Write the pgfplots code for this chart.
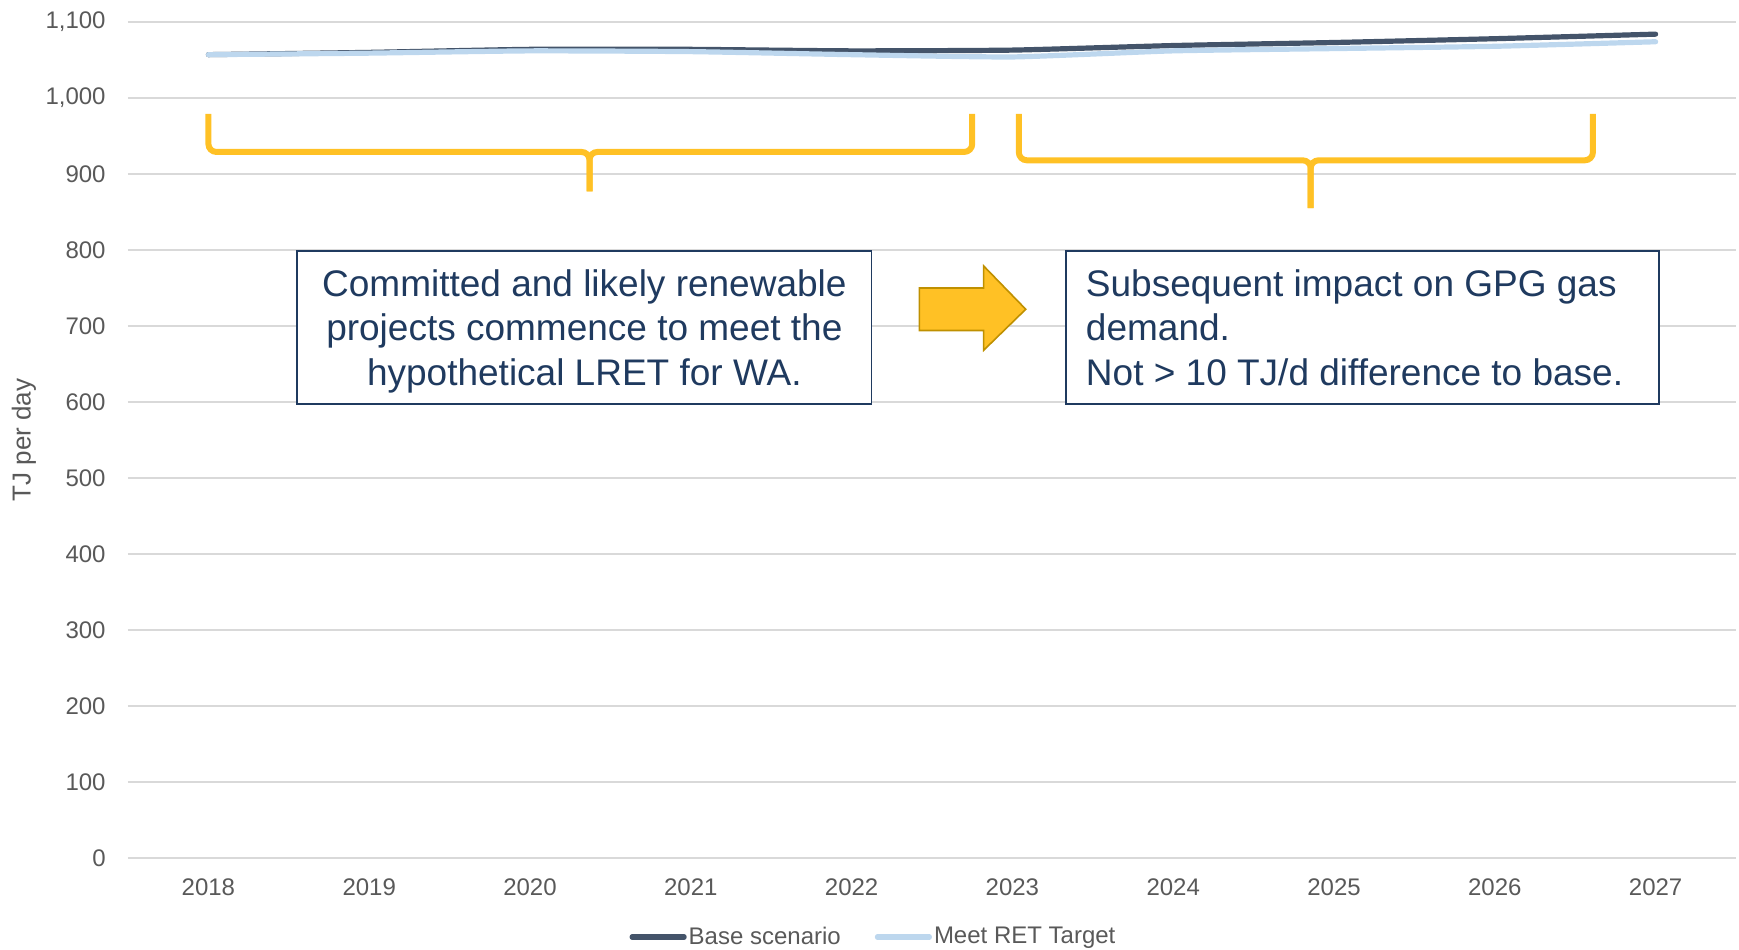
\documentclass[border=0pt]{standalone}
\usepackage{pgfplots}
\pgfplotsset{compat=1.18}
\usepackage{fontspec}
\setmainfont{Liberation Sans}
\definecolor{basec}{HTML}{44546A}
\definecolor{meetc}{HTML}{BDD7EE}
\definecolor{gridc}{HTML}{D9D9D9}
\definecolor{tickc}{HTML}{595959}
\definecolor{boxc}{HTML}{1F3A5F}
\definecolor{gold}{HTML}{FFC125}
\definecolor{golddark}{HTML}{BF9000}
\begin{document}
\begin{tikzpicture}
\begin{axis}[
  scale only axis,
  width=804pt, height=418pt,
  xmin=-0.5, xmax=9.5, ymin=0, ymax=1100,
  xtick={0,...,9},
  xticklabels={2018,2019,2020,2021,2022,2023,2024,2025,2026,2027},
  ytick={0,100,...,1100},
  ymajorgrids,
  grid style={gridc, line width=1pt},
  axis line style={draw=none},
  major tick length=0pt,
  /pgf/number format/assume math mode=true,
  /pgf/number format/1000 sep={,},
  tick label style={font=\fontsize{12}{14}\selectfont, text=tickc},
  xticklabel style={anchor=center, yshift=-14.5pt},
  yticklabel style={anchor=east, inner sep=0pt, xshift=-11pt},
  ylabel={TJ per day},
  ylabel style={at={(axis description cs:-0.0647,0.5)}, anchor=center, font=\fontsize{13}{15}\selectfont, text=tickc},
  legend style={at={(0.4636,-0.0945)}, anchor=center, draw=none, fill=none,
    font=\fontsize{12}{14}\selectfont, text=tickc, legend columns=-1,
    /tikz/every even column/.append style={column sep=16pt},
    nodes={inner sep=1pt}},
  legend image code/.code={\draw[#1, line cap=round] (0pt,0pt) -- (26pt,0pt);},
  clip=false,
]
\coordinate (bl) at (rel axis cs:0,0);
\coordinate (tr) at (rel axis cs:1,1);
\addplot[basec, line width=2.6pt, line cap=round, smooth, tension=0.3] coordinates {
 (0,1057) (1,1060) (2,1064) (3,1064) (4,1062) (5,1063) (6,1069) (7,1073) (8,1078) (9,1084)};
\addlegendentry{Base scenario}
\addplot[meetc, line width=2.6pt, line cap=round, smooth, tension=0.3] coordinates {
 (0,1057) (1,1059) (2,1062) (3,1061) (4,1057) (5,1054) (6,1062) (7,1065) (8,1068) (9,1074)};
\addlegendentry{Meet RET Target}

% braces
\draw[gold, line width=3pt, rounded corners=4pt]
  (axis cs:0,979) -- (axis cs:0,929) -- (axis cs:2.37,929) -- (axis cs:2.37,877);
\draw[gold, line width=3pt, rounded corners=4pt]
  (axis cs:4.75,979) -- (axis cs:4.75,929) -- (axis cs:2.37,929) -- (axis cs:2.37,877);
\draw[gold, line width=3pt, rounded corners=4pt]
  (axis cs:5.04,979) -- (axis cs:5.04,918) -- (axis cs:6.855,918) -- (axis cs:6.855,855);
\draw[gold, line width=3pt, rounded corners=4pt]
  (axis cs:8.61,979) -- (axis cs:8.61,918) -- (axis cs:6.855,918) -- (axis cs:6.855,855);

% boxes
\draw[boxc, line width=0.9pt, fill=white] (axis cs:0.552,597) rectangle (axis cs:4.124,799);
\draw[boxc, line width=0.9pt, fill=white] (axis cs:5.331,597) rectangle (axis cs:9.021,799);
\node[align=center, text=boxc, font=\fontsize{18.5}{22.3}\selectfont, inner sep=0pt]
  at (axis cs:2.338,693) {Committed and likely renewable\\projects commence to meet the\\hypothetical LRET for WA.};
\node[align=left, text=boxc, font=\fontsize{18.5}{22.3}\selectfont, inner sep=0pt, anchor=west]
  at (axis cs:5.455,698) {Subsequent impact on GPG gas\\demand.\\Not > 10 TJ/d difference to base.};

% arrow
\draw[golddark, line width=0.8pt, fill=gold, line join=miter]
  (axis cs:4.421,750) -- (axis cs:4.821,750) -- (axis cs:4.821,779) -- (axis cs:5.083,722)
  -- (axis cs:4.821,668) -- (axis cs:4.821,694) -- (axis cs:4.421,694) -- cycle;
\end{axis}
\pgfresetboundingbox
\path[use as bounding box] ([shift={(-64pt,-46pt)}]bl) rectangle ([shift={(1.5pt,11pt)}]tr);
\end{tikzpicture}
\end{document}
